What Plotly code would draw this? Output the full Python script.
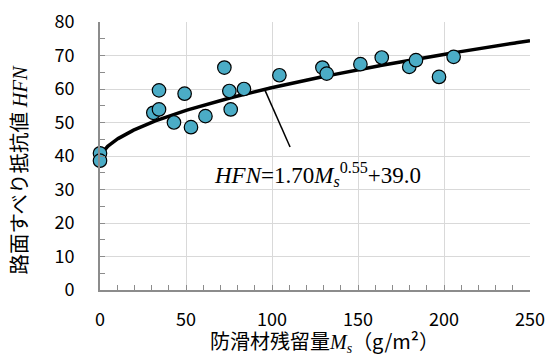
import numpy as np
import plotly.graph_objects as go

ms_values = [0, 0, 31, 34.3, 34.3, 43, 49.2, 52.9, 61.3, 72.3, 75.2, 76, 83.7,
             104.3, 129.3, 131.8, 151.4, 163.8, 179.8, 183.7, 197.1, 205.6]
hfn_values = [40.8, 38.6, 52.9, 53.9, 59.6, 50.0, 58.6, 48.6, 51.9, 66.4, 59.4, 53.9, 60.0,
              64.1, 66.4, 64.6, 67.4, 69.4, 66.6, 68.6, 63.6, 69.6]

# Fitted trendline shown on the chart: HFN = 1.70 * Ms^0.55 + 39.0
fit_a, fit_b, fit_c = 1.70, 0.55, 39.0
fit_x = np.linspace(0, 250, 501)
fit_y = fit_a * fit_x ** fit_b + fit_c

x_ticks = [0, 50, 100, 150, 200, 250]
y_ticks = [0, 10, 20, 30, 40, 50, 60, 70, 80]

SANS = "Noto Sans CJK JP"
SERIF = "Liberation Serif"
AXIS_GRAY = "#8c8c8c"
GRID_GRAY = "#d9d9d9"

fig = go.Figure()
fig.add_trace(go.Scatter(
    x=fit_x, y=fit_y, mode="lines",
    line=dict(color="black", width=3.5),
    hoverinfo="skip", showlegend=False,
))
fig.add_trace(go.Scatter(
    x=ms_values, y=hfn_values, mode="markers",
    marker=dict(size=13.5, color="#4bacc6", line=dict(color="black", width=1.2)),
    cliponaxis=False, showlegend=False,
))

# leader line from curve to equation
fig.add_shape(type="line", x0=95.5, y0=60.1, x1=110.5, y1=42.7,
              xref="x", yref="y", line=dict(color="black", width=1.5))

fig.add_annotation(
    x=65.0, y=34.6, xref="x", yref="y", xanchor="left", yanchor="middle",
    showarrow=False,
    text=(f"<i>HFN</i>={fit_a:.2f}<i>M</i><sub><i>s</i></sub>"
          f"<sup>{fit_b:.2f}</sup>+{fit_c:.1f}"),
    font=dict(family=SERIF, size=23, color="black"),
)

# axis titles
fig.add_annotation(
    x=-0.191, y=0.449, xref="paper", yref="paper", xanchor="center", yanchor="middle",
    showarrow=False, textangle=-90,
    text=f'路面すべり抵抗値 <span style="font-family:{SERIF}"><i>HFN</i></span>',
    font=dict(family=SANS, size=20.5, color="black"),
)
fig.add_annotation(
    x=0.521, y=-0.192, xref="paper", yref="paper", xanchor="center", yanchor="middle",
    showarrow=False,
    text=f'防滑材残留量<span style="font-family:{SERIF}"><i>M</i><sub><i>s</i></sub></span>（g/m²）',
    font=dict(family=SANS, size=20, color="black"),
)

fig.update_xaxes(
    range=[0, 250], tickvals=x_ticks, ticktext=[str(v) for v in x_ticks],
    showgrid=True, gridcolor=GRID_GRAY, gridwidth=1,
    showline=True, linecolor=AXIS_GRAY, linewidth=2,
    ticks="inside", ticklen=5, tickcolor=AXIS_GRAY, tickwidth=1,
    minor=dict(dtick=10, ticks="inside", ticklen=5, tickcolor=AXIS_GRAY, tickwidth=1, showgrid=False),
    tickfont=dict(family=SANS, size=18, color="black"),
    ticklabelstandoff=12, zeroline=False, automargin=False,
)
fig.update_yaxes(
    range=[0, 80], tickvals=y_ticks, ticktext=[str(v) for v in y_ticks],
    showgrid=True, gridcolor=GRID_GRAY, gridwidth=1,
    showline=True, linecolor=AXIS_GRAY, linewidth=2,
    ticks="inside", ticklen=5, tickcolor=AXIS_GRAY, tickwidth=1,
    minor=dict(dtick=5, ticks="inside", ticklen=5, tickcolor=AXIS_GRAY, tickwidth=1, showgrid=False),
    tickfont=dict(family=SANS, size=18, color="black"),
    ticklabelstandoff=20, zeroline=False, automargin=False,
)

fig.update_layout(
    width=553, height=363,
    margin=dict(l=100, r=23, t=22, b=73, autoexpand=False),
    paper_bgcolor="white", plot_bgcolor="white",
    showlegend=False,
)

fig.write_html(
    "out.html",
    config={"displayModeBar": False},
    post_script="document.body.style.margin='0';document.body.style.overflow='hidden';",
)
